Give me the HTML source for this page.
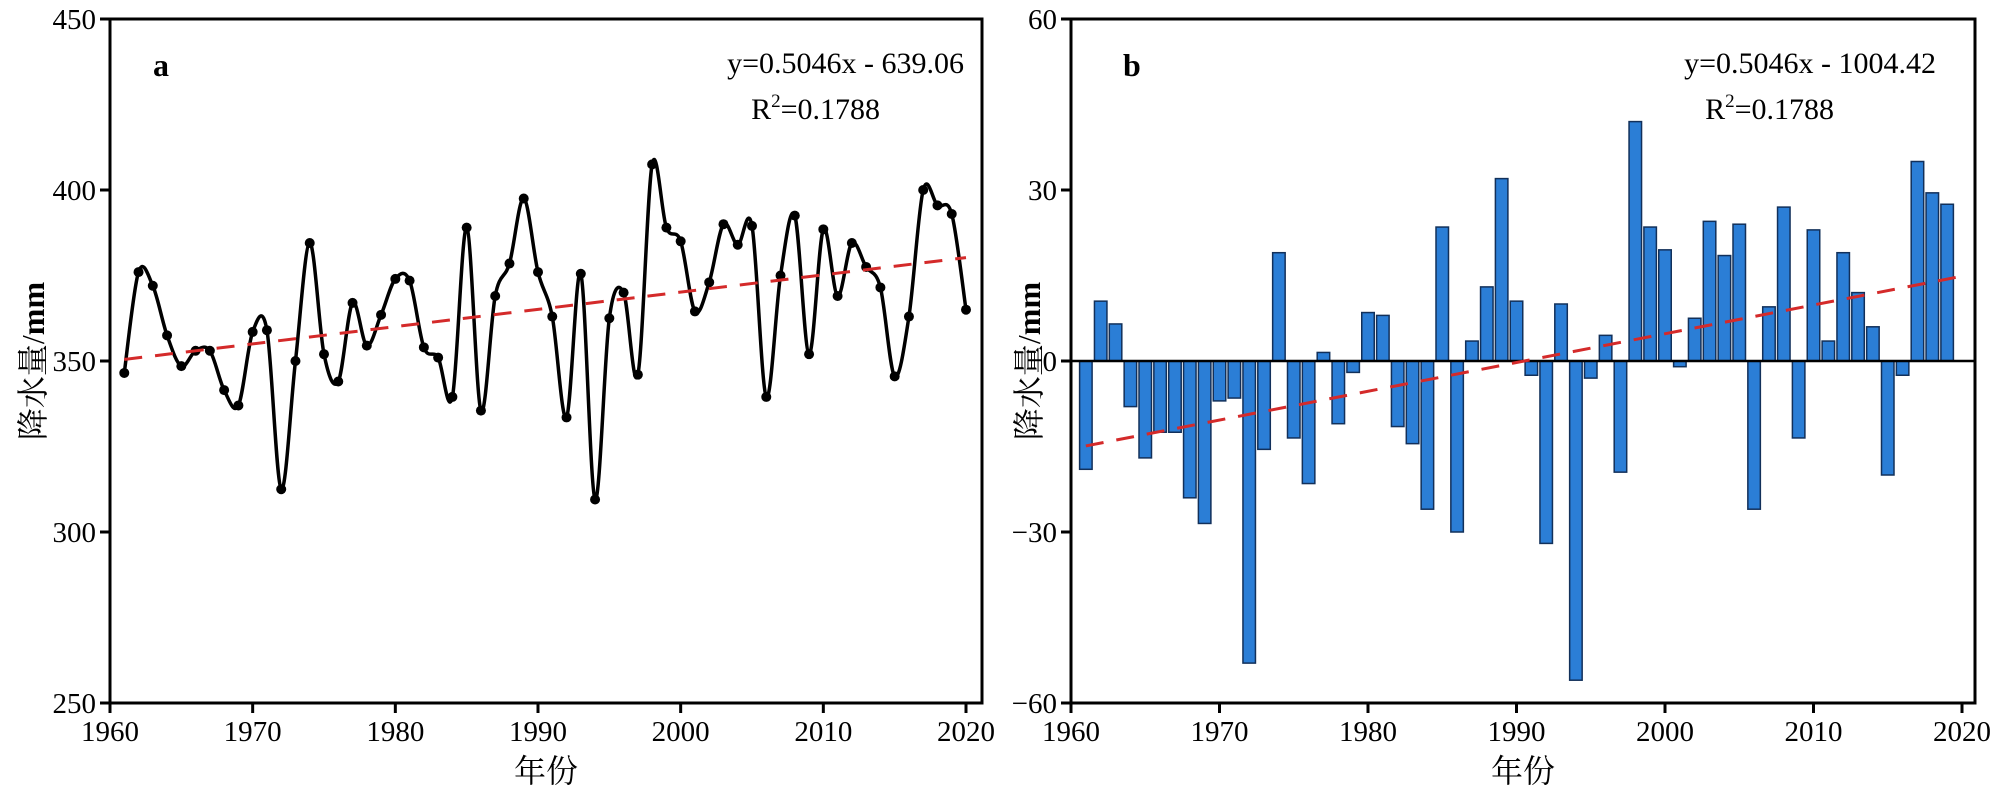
<!DOCTYPE html>
<html><head><meta charset="utf-8">
<style>
body{margin:0;background:#fff;}
svg{display:block;font-family:"Liberation Serif","Noto Serif CJK SC",serif;}
</style></head>
<body>
<svg id="c" width="2000" height="794" viewBox="0 0 2000 794"></svg>
<script>
const years=[];for(let y=1961;y<=2020;y++)years.push(y);
const precip=[346.5,376,372,357.5,348.5,353,353,341.5,337,358.5,359,312.5,350,384.5,352,344,367,354.5,363.5,374,373.5,354,351,339.5,389,335.5,369,378.5,397.5,376,363,333.5,375.5,309.5,362.5,370,346,407.5,389,385,364.5,373,390,384,389.5,339.5,375,392.5,352,388.5,369,384.5,377.5,371.5,345.5,363,400,395.5,393,365];
const barYears=[];for(let y=1961;y<=2019;y++)barYears.push(y);
const anomaly=[-19,10.5,6.5,-8,-17,-12.5,-12.5,-24,-28.5,-7,-6.5,-53,-15.5,19,-13.5,-21.5,1.5,-11,-2,8.5,8,-11.5,-14.5,-26,23.5,-30,3.5,13,32,10.5,-2.5,-32,10,-56,-3,4.5,-19.5,42,23.5,19.5,-1,7.5,24.5,18.5,24,-26,9.5,27,-13.5,23,3.5,19,12,6,-20,-2.5,35,29.5,27.5];
const xTicks=[1960,1970,1980,1990,2000,2010,2020];
const yTicksA=[250,300,350,400,450];
const yTicksB=[-60,-30,0,30,60];
const slope=0.5046, interA=-639.06, interB=-1004.42;

const NS="http://www.w3.org/2000/svg";
const svg=document.getElementById('c');
function el(tag,attrs,parent){const e=document.createElementNS(NS,tag);for(const k in attrs)e.setAttribute(k,attrs[k]);(parent||svg).appendChild(e);return e;}
function txt(s,attrs,parent){const e=el('text',attrs,parent);e.textContent=s;return e;}

const A={l:110,r:982,t:19,b:703,x0:1960,x1:2020,y0:250,y1:450,xr:966,tx:44};
const B={l:1071,r:1975,t:19,b:703,x0:1960,x1:2020,y0:-60,y1:60,xr:1962,tx:1040};
function fx(P,v){return P.l+(v-P.x0)/(P.x1-P.x0)*(P.xr-P.l);}
function fy(P,v){return P.b-(v-P.y0)/(P.y1-P.y0)*(P.b-P.t);}

function axes(P,yt,name){
  const g=el('g',{});
  
  
  const fr=el('rect',{x:P.l,y:P.t,width:P.r-P.l,height:P.b-P.t,fill:'none',stroke:'#000','stroke-width':3},g);
  
  
  yt.forEach(v=>{
    const y=fy(P,v);
    el('line',{x1:P.l-10,x2:P.l,y1:y,y2:y,stroke:'#000','stroke-width':3},g);
    const t=txt(v<0?'\u2212'+(-v):String(v),{x:P.l-14,y:y+10,'text-anchor':'end','font-size':29},g);
    
    
  });
  xTicks.forEach(v=>{
    const x=fx(P,v);
    el('line',{x1:x,x2:x,y1:P.b,y2:P.b+10,stroke:'#000','stroke-width':3},g);
    const t=txt(String(v),{x:x,y:P.b+38,'text-anchor':'middle','font-size':29},g);
    
    
  });
  const xt=txt('年份',{x:(P.l+P.r)/2,y:782,'text-anchor':'middle','font-size':32},g);
  
  
  const cx=P.tx, cy=(P.t+P.b)/2;
  const yt2=el('text',{x:cx,y:cy,'text-anchor':'middle','font-size':32,transform:'rotate(-90 '+cx+' '+cy+')'},g);
  
  
  const s1=el('tspan',{},yt2);s1.textContent='降水量/';
  const s2=el('tspan',{'font-weight':'bold'},yt2);s2.textContent='mm';
}
axes(A,yTicksA,'panel-a');
axes(B,yTicksB,'panel-b');

const pts=years.map((y,i)=>[fx(A,y),fy(A,precip[i])]);
let d='M'+pts[0][0]+','+pts[0][1];
for(let i=0;i<pts.length-1;i++){
  const p0=pts[Math.max(0,i-1)],p1=pts[i],p2=pts[i+1],p3=pts[Math.min(pts.length-1,i+2)];
  const c1=[p1[0]+(p2[0]-p0[0])/6,p1[1]+(p2[1]-p0[1])/6];
  const c2=[p2[0]-(p3[0]-p1[0])/6,p2[1]-(p3[1]-p1[1])/6];
  d+=' C'+c1[0]+','+c1[1]+' '+c2[0]+','+c2[1]+' '+p2[0]+','+p2[1];
}
const line=el('path',{d:d,fill:'none',stroke:'#000','stroke-width':3.5});


pts.forEach(p=>{
  const c=el('circle',{cx:p[0],cy:p[1],r:5,fill:'#000'});
  
  
});
const ta=el('line',{x1:fx(A,1961),y1:fy(A,slope*1961+interA),x2:fx(A,2020),y2:fy(A,slope*2020+interA),stroke:'#d42a2a','stroke-width':3,'stroke-dasharray':'18,13'});



const bw=12.5;
barYears.forEach((y,i)=>{
  const x=fx(B,y), v=anomaly[i];
  const y0=fy(B,0), y1=fy(B,v);
  const r=el('rect',{x:x-bw/2,y:Math.min(y0,y1),width:bw,height:Math.abs(y1-y0),fill:'#2b7ed6',stroke:'#12305a','stroke-width':1.5});
  
  
});
const zl=el('line',{x1:B.l,x2:B.r,y1:fy(B,0),y2:fy(B,0),stroke:'#000','stroke-width':2.5});


const tb=el('line',{x1:fx(B,1961),y1:fy(B,slope*1961+interB),x2:fx(B,2020),y2:fy(B,slope*2020+interB),stroke:'#d42a2a','stroke-width':3,'stroke-dasharray':'18,13'});



function lab(s,x,y,attrs,name){const t=txt(s,Object.assign({x:x,y:y},attrs));return t;}
lab('a',153,76,{'font-size':32,'font-weight':'bold'},'panel-a-label');
lab('b',1123,76,{'font-size':32,'font-weight':'bold'},'panel-b-label');
lab('y=0.5046x - 639.06',964,73,{'font-size':30,'text-anchor':'end'},'equation-a');
const ra=lab('',880,119,{'font-size':30,'text-anchor':'end'},'r-squared-a');
ra.innerHTML='R<tspan dy="-12" font-size="19">2</tspan><tspan dy="12">=0.1788</tspan>';
lab('y=0.5046x - 1004.42',1936,73,{'font-size':30,'text-anchor':'end'},'equation-b');
const rb=lab('',1834,119,{'font-size':30,'text-anchor':'end'},'r-squared-b');
rb.innerHTML='R<tspan dy="-12" font-size="19">2</tspan><tspan dy="12">=0.1788</tspan>';
</script>
</body></html>
